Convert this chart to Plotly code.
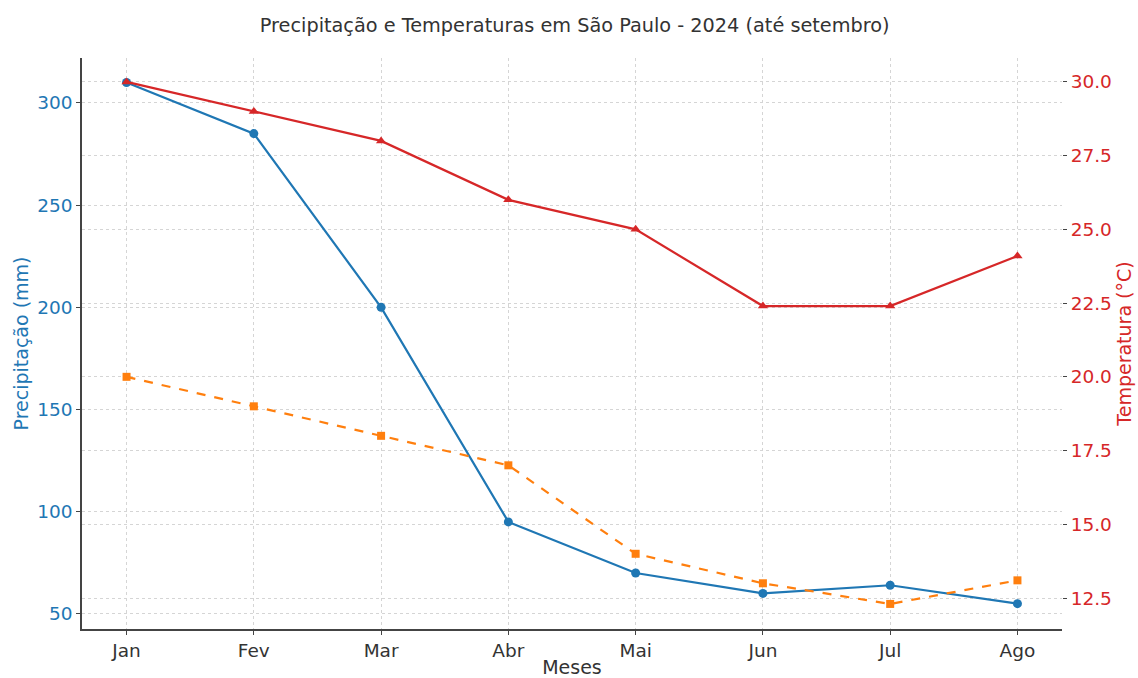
import plotly.graph_objects as go

meses = ["Jan", "Fev", "Mar", "Abr", "Mai", "Jun", "Jul", "Ago"]
precipitacao = [310, 285, 200, 95, 70, 60, 64, 55]
temp_max = [30.0, 29.0, 28.0, 26.0, 25.0, 22.4, 22.4, 24.1]
temp_min = [20.0, 19.0, 18.0, 17.0, 14.0, 13.0, 12.3, 13.1]

left_ticks = [50, 100, 150, 200, 250, 300]
right_ticks = [12.5, 15.0, 17.5, 20.0, 22.5, 25.0, 27.5, 30.0]

BLUE = "#1f77b4"
RED = "#d62728"
ORANGE = "#ff7f0e"
FONT = "DejaVu Sans"
TXT = "#333333"

x_idx = list(range(len(meses)))

fig = go.Figure()
fig.add_trace(go.Scatter(
    x=x_idx, y=precipitacao, mode="lines+markers", name="Precipitação (mm)",
    line=dict(color=BLUE, width=2.2), marker=dict(symbol="circle", size=9, color=BLUE),
    yaxis="y"))
fig.add_trace(go.Scatter(
    x=x_idx, y=temp_max, mode="lines+markers", name="Temperatura Máxima (°C)",
    line=dict(color=RED, width=2.2), marker=dict(symbol="triangle-up", size=9, color=RED),
    yaxis="y2"))
fig.add_trace(go.Scatter(
    x=x_idx, y=temp_min, mode="lines+markers", name="Temperatura Mínima (°C)",
    line=dict(color=ORANGE, width=2.2, dash="dash"), marker=dict(symbol="square", size=8, color=ORANGE),
    yaxis="y2"))

fig.update_layout(
    width=1138, height=678,
    margin=dict(l=82, r=76, t=58, b=49, autoexpand=False),
    paper_bgcolor="white", plot_bgcolor="white",
    showlegend=False,
    font=dict(family=FONT, size=18, color=TXT),
    title=dict(text="Precipitação e Temperaturas em São Paulo - 2024 (até setembro)",
               x=0.505, xanchor="center", y=1 - 25/678, yref="container", yanchor="middle",
               font=dict(family=FONT, size=19.3, color=TXT)),
    xaxis=dict(
        range=[-0.35, 7.35], tickmode="array", tickvals=x_idx, ticktext=meses,
        showline=True, linecolor="#444444", linewidth=1.5, mirror=False,
        ticks="outside", ticklen=4, tickcolor="#444444",
        showgrid=True, gridcolor="#d5d5d5", griddash="dot", gridwidth=1,
        zeroline=False, tickfont=dict(size=18.5, color=TXT), automargin=False,
        title=dict(text="Meses", font=dict(size=19, color=TXT), standoff=4),
    ),
    yaxis=dict(
        range=[42.6, 322], tickmode="array", tickvals=left_ticks,
        showline=True, linecolor="#444444", linewidth=1.5,
        ticks="outside", ticklen=4, tickcolor="#444444",
        showgrid=True, gridcolor="#d5d5d5", griddash="dot", gridwidth=1,
        zeroline=False, tickfont=dict(size=18.5, color=BLUE), automargin=False,
        title=dict(text="Precipitação (mm)", font=dict(size=19, color=BLUE), standoff=4),
    ),
    yaxis2=dict(
        range=[11.45, 30.81], tickmode="array", tickvals=right_ticks,
        tickformat=".1f",
        overlaying="y", side="right", anchor="x",
        showline=False,
        ticks="outside", ticklen=4, tickcolor="#444444",
        showgrid=True, gridcolor="#d5d5d5", griddash="dot", gridwidth=1,
        zeroline=False, tickfont=dict(size=18.5, color=RED), automargin=False,
        title=dict(text="Temperatura (°C)", font=dict(size=19, color=RED), standoff=6),
    ),
)

fig.write_html("out.html", config={"displayModeBar": False},
               post_script="document.body.style.margin='0';document.body.style.overflow='hidden';")
